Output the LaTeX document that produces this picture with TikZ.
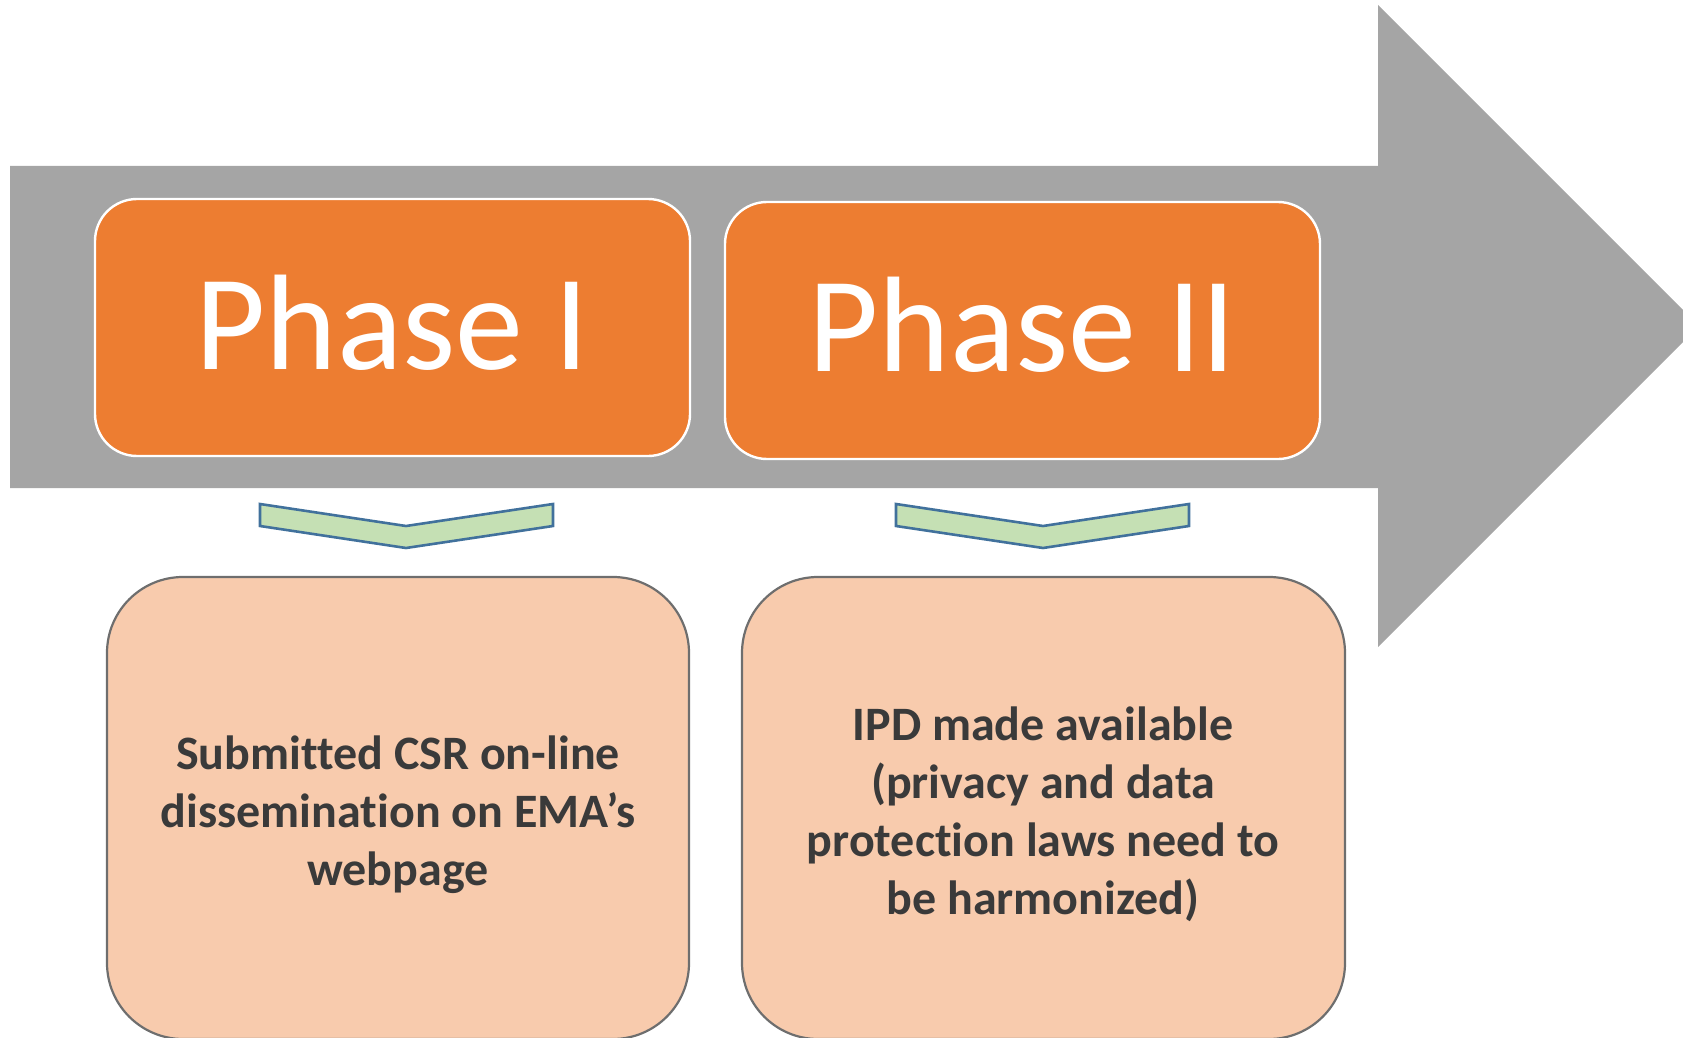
\documentclass[tikz,border=0pt]{standalone}
\usepackage{fontspec}
\setmainfont[RawFeature={-liga;-clig;-dlig;-calt}]{Carlito}
\definecolor{shaftgray}{HTML}{A5A5A5}
\definecolor{phaseorange}{HTML}{ED7D31}
\definecolor{notefill}{HTML}{F8CBAD}
\definecolor{noteline}{HTML}{6E6E6E}
\definecolor{chevfill}{HTML}{C5E0B4}
\definecolor{chevline}{HTML}{41719C}
\definecolor{notetext}{HTML}{3A3A3A}
\begin{document}
\begin{tikzpicture}[x=0.5pt,y=-0.5pt,
  phasebox/.style={draw=white, line width=1.2pt, fill=phaseorange, rounded corners=21pt},
  notebox/.style={draw=noteline, line width=1.1pt, fill=notefill, rounded corners=38pt},
  chevron/.style={draw=chevline, line width=1.3pt, fill=chevfill, line join=miter},
  phaselabel/.style={text=white, font=\fontsize{68pt}{80pt}\selectfont, inner sep=0pt},
  notelabel/.style={text=notetext, font=\bfseries\fontsize{24pt}{29pt}\selectfont, align=center, inner sep=0pt}]
  \useasboundingbox (0,0) rectangle (1683,1038);
  \begin{scope}
    \clip (0,0) rectangle (1683,1038);
    % big gray timeline arrow
    \fill[shaftgray] (10,166) -- (1378,166) -- (1378,5) -- (1699,326)
      -- (1378,647) -- (1378,488) -- (10,488) -- cycle;
    % phase boxes
    \draw[phasebox] (95,199) rectangle (690,456);
    \draw[phasebox] (725,202) rectangle (1320,459);
    \node[phaselabel] (p1) at (392,323) {Phase I};
    \node[phaselabel] (p2) at (1022,325) {Phase II};
    % chevrons
    \draw[chevron] (260,504) -- (406,526) -- (553,504) -- (553,526) -- (406,548) -- (260,526) -- cycle;
    \draw[chevron] (896,504) -- (1043,526) -- (1189,504) -- (1189,526) -- (1043,548) -- (896,526) -- cycle;
    % note boxes
    \draw[notebox] (107,577) rectangle (689,1039);
    \draw[notebox] (742,577) rectangle (1345,1039);
    \node[notelabel] (n1) at (398,815) {Submitted CSR on-line\\dissemination on EMA’s\\webpage};
    \node[notelabel] (n2) at (1043,814) {IPD made available\\(privacy and data\\protection laws need to\\be harmonized)};
  \end{scope}
\end{tikzpicture}
\end{document}
